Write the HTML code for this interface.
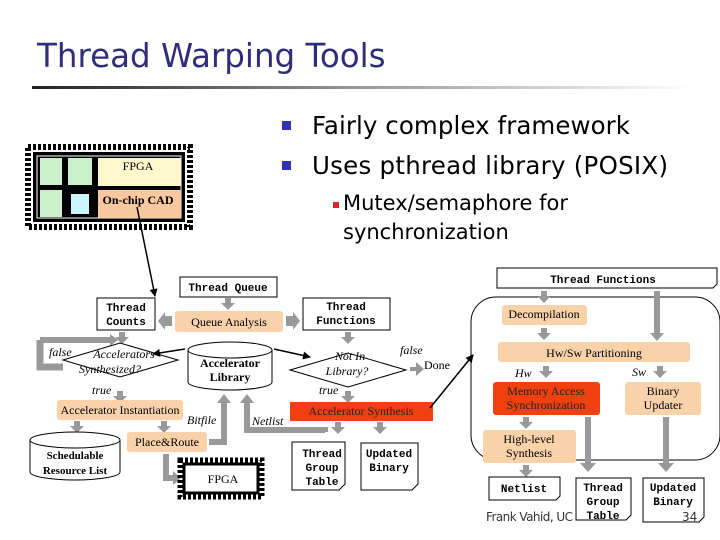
<!DOCTYPE html>
<html><head><meta charset="utf-8"><style>
html,body{margin:0;padding:0;background:#fff}
svg{display:block}
.s{font-family:"Liberation Serif",serif}
.m{font-family:"Liberation Mono",monospace;font-weight:bold}
.t{font-family:"DejaVu Sans","Liberation Sans",sans-serif}
</style></head><body>
<svg width="720" height="540" viewBox="0 0 720 540" xmlns="http://www.w3.org/2000/svg">
<defs>
<linearGradient id="g" x1="0" x2="1"><stop offset="0" stop-color="#222"/><stop offset="0.5" stop-color="#999"/><stop offset="1" stop-color="#fff"/></linearGradient>
<marker id="ah" markerWidth="8" markerHeight="8" refX="7" refY="4" orient="auto" markerUnits="userSpaceOnUse"><path d="M0,0 L8,4 L0,8z" fill="#000"/></marker>
<g id="da"><rect x="-3" y="0" width="6" height="6" fill="#999"/><path d="M-7,5 L7,5 L0,12z" fill="#999"/></g>
</defs>
<text x="37" y="67" class="t" font-size="32.5" fill="#2e2e7a">Thread Warping Tools</text>
<rect x="32" y="86" width="660" height="3" fill="url(#g)"/>
<rect x="282" y="121" width="9" height="9" fill="#3333aa"/>
<text x="312" y="134" class="t" font-size="24.5" textLength="318">Fairly complex framework</text>
<rect x="282" y="161" width="9" height="9" fill="#3333aa"/>
<text x="312" y="174" class="t" font-size="24.5" textLength="356">Uses pthread library (POSIX)</text>
<rect x="333" y="202" width="6" height="6" fill="#dd2222"/>
<text x="343" y="210" class="t" font-size="21">Mutex/semaphore for</text>
<text x="343" y="239" class="t" font-size="21">synchronization</text>

<!-- chip -->
<g>
<rect x="28" y="147" width="162" height="80" fill="none" stroke="#000" stroke-width="6" stroke-dasharray="3,2"/>
<rect x="33" y="152" width="152" height="70" fill="#000"/>
<rect x="37" y="156" width="144" height="62" fill="none" stroke="#fff" stroke-width="1"/>
<rect x="40" y="158" width="22" height="27" fill="#ccf0cc"/>
<rect x="68" y="158" width="24" height="27" fill="#ccf0cc"/>
<rect x="40" y="190" width="22" height="27" fill="#ccf0cc"/>
<rect x="71" y="194" width="18" height="20" fill="#ccf4ff"/>
<rect x="98" y="158" width="83" height="28" fill="#fff8cc"/>
<rect x="98" y="190" width="83" height="28" fill="#f8c8a0"/>
<text x="138" y="170" class="s" font-size="12" text-anchor="middle">FPGA</text>
<text x="138" y="204" class="s" font-size="12" font-weight="bold" text-anchor="middle">On-chip CAD</text>
</g>
<line x1="137" y1="207" x2="155" y2="296" stroke="#000" stroke-width="1.5" marker-end="url(#ah)"/>

<!-- left diagram -->
<path d="M40,340 L40,367 L63,367" fill="none" stroke="#999" stroke-width="7"/>
<path d="M40,340 L112,340" fill="none" stroke="#999" stroke-width="6"/>
<path d="M110,334 L118,340 L110,346z" fill="#999"/>
<rect x="180" y="277" width="97" height="20" fill="#fff" stroke="#000"/>
<text x="228" y="291" class="m" font-size="11" text-anchor="middle">Thread Queue</text>
<use href="#da" x="228" y="298"/>
<rect x="97" y="298" width="58" height="32" fill="#fff" stroke="#000"/>
<text x="126" y="311" class="m" font-size="11" text-anchor="middle">Thread</text>
<text x="126" y="325" class="m" font-size="11" text-anchor="middle">Counts</text>
<rect x="175" y="311" width="108" height="21" rx="3" fill="#fad2aa"/>
<text x="229" y="326" class="s" font-size="12" text-anchor="middle">Queue Analysis</text>
<path d="M172,316 L165,316 L165,312 L158,321 L165,330 L165,326 L172,326z" fill="#999"/>
<path d="M286,316 L293,316 L293,312 L300,321 L293,330 L293,326 L286,326z" fill="#999"/>
<rect x="303" y="298" width="87" height="32" fill="#fff" stroke="#000"/>
<text x="346" y="310" class="m" font-size="11" text-anchor="middle">Thread</text>
<text x="346" y="324" class="m" font-size="11" text-anchor="middle">Functions</text>
<use href="#da" x="122" y="332"/>
<use href="#da" x="348" y="332"/>
<path d="M63,360 L120,343 L178,360 L120,377z" fill="#fff" stroke="#000"/>
<text x="124" y="358" class="s" font-style="italic" font-size="12" text-anchor="middle">Accelerators</text>
<text x="110" y="373" class="s" font-style="italic" font-size="12" text-anchor="middle">Synthesized?</text>
<text x="49" y="356" class="s" font-style="italic" font-size="12">false</text>
<text x="92" y="394" class="s" font-style="italic" font-size="12">true</text>
<path d="M188,350 L188,382 A42,8 0 0 0 272,382 L272,350" fill="#fff" stroke="#000"/>
<ellipse cx="230" cy="350" rx="42" ry="8" fill="#fff" stroke="#000"/>
<text x="230" y="367" class="s" font-weight="bold" font-size="12" text-anchor="middle">Accelerator</text>
<text x="230" y="381" class="s" font-weight="bold" font-size="12" text-anchor="middle">Library</text>
<line x1="185" y1="349" x2="153" y2="354" stroke="#000" stroke-width="1.5" marker-end="url(#ah)"/>
<line x1="274" y1="349" x2="310" y2="357" stroke="#000" stroke-width="1.5" marker-end="url(#ah)"/>
<path d="M290,370 L348,353 L406,370 L348,387z" fill="#fff" stroke="#000"/>
<text x="350" y="360" class="s" font-style="italic" font-size="12" text-anchor="middle">Not In</text>
<text x="347" y="375" class="s" font-style="italic" font-size="12" text-anchor="middle">Library?</text>
<text x="400" y="354" class="s" font-style="italic" font-size="12">false</text>
<path d="M410,367 L416,367 L416,362 L424,369 L416,376 L416,371 L410,371z" fill="#999"/>
<text x="424" y="369" class="s" font-size="12">Done</text>
<text x="319" y="394" class="s" font-style="italic" font-size="12">true</text>
<use href="#da" x="120" y="391"/>
<use href="#da" x="348" y="391"/>
<rect x="57" y="400" width="126" height="20" rx="3" fill="#fad2aa"/>
<text x="120" y="414" class="s" font-size="12" text-anchor="middle">Accelerator Instantiation</text>
<rect x="290" y="402" width="143" height="19" fill="#f04010"/>
<text x="361" y="415" class="s" font-size="12" text-anchor="middle" fill="#222">Accelerator Synthesis</text>
<line x1="430" y1="408" x2="473" y2="355" stroke="#000" stroke-width="1.5" marker-end="url(#ah)"/>
<use href="#da" x="77" y="421"/>
<use href="#da" x="164" y="421"/>
<text x="187" y="424" class="s" font-style="italic" font-size="12">Bitfile</text>
<text x="252" y="425" class="s" font-style="italic" font-size="12">Netlist</text>
<path d="M209,442 L224,442 L224,402" fill="none" stroke="#999" stroke-width="6"/>
<path d="M217,403 L224,394 L231,403z" fill="#999"/>
<path d="M325,432 L325,432 L325,430 L247,430 L247,402" fill="none" stroke="#999" stroke-width="6"/>
<path d="M240,403 L247,394 L254,403z" fill="#999"/>
<use href="#da" x="338" y="422"/>
<use href="#da" x="380" y="422"/>
<rect x="127" y="432" width="80" height="20" rx="3" fill="#fad2aa"/>
<text x="167" y="446" class="s" font-size="12" text-anchor="middle">Place&amp;Route</text>
<path d="M30,440 L30,472 A45,8 0 0 0 120,472 L120,440" fill="#fff" stroke="#000"/>
<ellipse cx="75" cy="440" rx="45" ry="8" fill="#fff" stroke="#000"/>
<text x="75" y="459" class="s" font-weight="bold" font-size="11" text-anchor="middle">Schedulable</text>
<text x="75" y="474" class="s" font-weight="bold" font-size="11" text-anchor="middle">Resource List</text>
<path d="M166,454 L166,478 L175,478" fill="none" stroke="#999" stroke-width="6"/>
<path d="M173,471 L181,478 L173,485z" fill="#999"/>
<rect x="180" y="460" width="82" height="37" fill="none" stroke="#000" stroke-width="5" stroke-dasharray="3,2"/>
<rect x="184" y="464" width="74" height="29" fill="#fff" stroke="#000" stroke-width="3"/>
<text x="223" y="483" class="s" font-size="12" text-anchor="middle">FPGA</text>
<path d="M292,442 L345,442 L345,484 L339,490 L292,490z" fill="#fff" stroke="#000"/>
<text x="322" y="457" class="m" font-size="11" text-anchor="middle">Thread</text>
<text x="322" y="471" class="m" font-size="11" text-anchor="middle">Group</text>
<text x="322" y="485" class="m" font-size="11" text-anchor="middle">Table</text>
<path d="M361,443 L418,443 L418,484 L412,490 L361,490z" fill="#fff" stroke="#000"/>
<text x="389" y="457" class="m" font-size="11" text-anchor="middle">Updated</text>
<text x="389" y="471" class="m" font-size="11" text-anchor="middle">Binary</text>

<!-- right diagram -->
<path d="M497,268 L717,268 L717,284 L713,288 L497,288z" fill="#fff" stroke="#000"/>
<text x="603" y="283" class="m" font-size="11" text-anchor="middle">Thread Functions</text>
<path d="M496,297 L695,297 A25,25 0 0 1 720,322 L720,435 A25,25 0 0 1 695,460 L496,460 A25,25 0 0 1 471,435 L471,322 A25,25 0 0 1 496,297z" fill="none" stroke="#000"/>
<use href="#da" x="544" y="291"/>
<rect x="654" y="291" width="6" height="44" fill="#999"/><path d="M650,333 L664,333 L657,341z" fill="#999"/>
<rect x="502" y="305" width="85" height="20" rx="3" fill="#fad2aa"/>
<text x="544" y="318" class="s" font-size="12" text-anchor="middle">Decompilation</text>
<use href="#da" x="544" y="328"/>
<rect x="498" y="342" width="192" height="20" rx="3" fill="#fad2aa"/>
<text x="594" y="357" class="s" font-size="12" text-anchor="middle">Hw/Sw Partitioning</text>
<text x="515" y="377" class="s" font-style="italic" font-size="12">Hw</text>
<text x="632" y="376" class="s" font-style="italic" font-size="12">Sw</text>
<use href="#da" x="546" y="366"/>
<use href="#da" x="660" y="366"/>
<rect x="493" y="382" width="107" height="33" rx="3" fill="#f04010"/>
<text x="546" y="395" class="s" font-size="12" text-anchor="middle" fill="#222">Memory Access</text>
<text x="546" y="409" class="s" font-size="12" text-anchor="middle" fill="#222">Synchronization</text>
<rect x="625" y="382" width="76" height="33" rx="3" fill="#fad2aa"/>
<text x="663" y="395" class="s" font-size="12" text-anchor="middle">Binary</text>
<text x="663" y="409" class="s" font-size="12" text-anchor="middle">Updater</text>
<use href="#da" x="526" y="417"/>
<rect x="585" y="417" width="6" height="48" fill="#999"/><path d="M580,463 L596,463 L588,472z" fill="#999"/>
<rect x="663" y="417" width="6" height="48" fill="#999"/><path d="M658,463 L674,463 L666,472z" fill="#999"/>
<rect x="483" y="430" width="93" height="33" rx="3" fill="#fad2aa"/>
<text x="529" y="443" class="s" font-size="12" text-anchor="middle">High-level</text>
<text x="529" y="457" class="s" font-size="12" text-anchor="middle">Synthesis</text>
<use href="#da" x="526" y="465"/>
<path d="M489,477 L560,477 L560,496 L556,500 L489,500z" fill="#fff" stroke="#000"/>
<text x="524" y="492" class="m" font-size="11" text-anchor="middle">Netlist</text>
<path d="M576,478 L631,478 L631,515 L626,520 L576,520z" fill="#fff" stroke="#000"/>
<text x="603" y="491" class="m" font-size="11" text-anchor="middle">Thread</text>
<text x="603" y="505" class="m" font-size="11" text-anchor="middle">Group</text>
<text x="603" y="519" class="m" font-size="11" text-anchor="middle">Table</text>
<path d="M643,478 L704,478 L704,517 L699,522 L643,522z" fill="#fff" stroke="#000"/>
<text x="673" y="491" class="m" font-size="11" text-anchor="middle">Updated</text>
<text x="673" y="505" class="m" font-size="11" text-anchor="middle">Binary</text>
<text x="486" y="521" class="t" font-size="12" fill="#333" textLength="87">Frank Vahid, UC</text>
<text x="682" y="521" class="t" font-size="12" fill="#333">34</text>
</svg>
</body></html>
